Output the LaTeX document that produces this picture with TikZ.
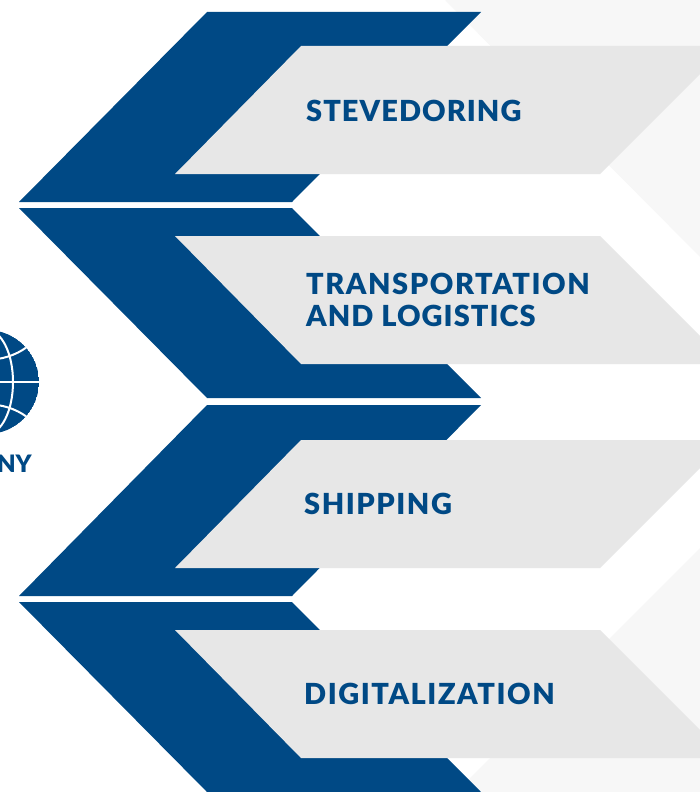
\documentclass[tikz,border=0pt]{standalone}
\usepackage{fontspec}
\setmainfont{Lato Black}
\definecolor{navy}{HTML}{004985}
\definecolor{band}{HTML}{E7E7E7}
\definecolor{pale}{HTML}{F7F7F7}
\newfontface\tightlab[LetterSpace=3.6]{Lato Black}
\newfontface\widelab[LetterSpace=5.3]{Lato Black}
\tikzset{
  bluechev/.style={fill=navy,draw=none},
  greychev/.style={fill=band,draw=none},
  palechev/.style={fill=pale,draw=none},
  gridline/.style={draw=white,line width=2pt},
  lab/.style={text=navy,inner sep=0pt,font=\widelab\fontsize{29}{32}\selectfont,anchor=base west},
}
\begin{document}
\begin{tikzpicture}[x=1pt,y=-1pt]
\useasboundingbox (0,0) rectangle (700,792);
\clip (0,0) rectangle (700,792);
\fill[white] (0,0) rectangle (700,792);
% pale background chevrons
\path[palechev] (445,0) -- (700,0) -- (700,257) -- cycle;
\path[palechev] (456,792) -- (700,792) -- (700,548) -- cycle;
% blue chevrons
\path[bluechev] (207,12) -- (481,12) -- (292,202) -- (19,202) -- cycle;
\path[bluechev] (19,208) -- (292,208) -- (481,398) -- (207,398) -- cycle;
\path[bluechev] (207,405) -- (481,405) -- (292,596) -- (19,596) -- cycle;
\path[bluechev] (19,602) -- (292,602) -- (481,792) -- (207,792) -- cycle;
% grey bands
\path[greychev] (301,46) -- (728,46) -- (600,174) -- (175,174) -- cycle;
\path[greychev] (175,236) -- (600,236) -- (728,364) -- (301,364) -- cycle;
\path[greychev] (301,440) -- (728,440) -- (600,568) -- (175,568) -- cycle;
\path[greychev] (175,630) -- (600,630) -- (728,758) -- (301,758) -- cycle;
% globe
\begin{scope}
\clip (-13,382) circle (52);
\fill[navy] (-13,382) circle (52);
\draw[gridline] (-65,382) -- (39,382);
\draw[gridline] (-13,382) ellipse (26 and 52);
\draw[gridline] (-13,330) -- (-13,434);
\draw[gridline] (-53,347) .. controls (-30,364) and (4,364) .. (27,347);
\draw[gridline] (-53,417) .. controls (-30,400) and (4,400) .. (27,417);
\end{scope}
% labels
\node[lab,font=\tightlab\fontsize{29}{32}\selectfont] (stevedoring) at (306,121) {STEVEDORING};
\node[lab,anchor=west,align=left] (transport) at (306,300) {TRANSPORTATION\\{\tightlab AND LOGISTICS}};
\node[lab] (shipping) at (304,514) {SHIPPING};
\node[lab] (digital) at (304,704) {DIGITALIZATION};
\node[lab,anchor=base east,font=\fontsize{24}{26}\selectfont] (company) at (32,472) {NY};
\end{tikzpicture}
\end{document}
